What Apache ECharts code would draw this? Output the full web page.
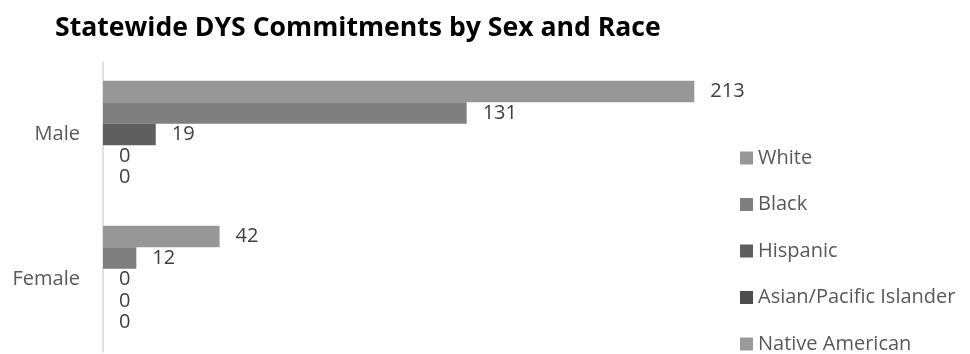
<!DOCTYPE html>
<html>
<head>
<meta charset="utf-8">
<script src="https://cdn.jsdelivr.net/npm/echarts@6/dist/echarts.min.js"></script>
<style>html,body{margin:0;padding:0;background:#fff}#c{width:970px;height:354px}</style>
</head>
<body>
<div id="c"></div>
<script>
const categories = ['Male', 'Female'];
const seriesNames = ['White', 'Black', 'Hispanic', 'Asian/Pacific Islander', 'Native American'];
const white = [213, 42];
const black = [131, 12];
const hispanic = [19, 0];
const asian = [0, 0];
const nativeAm = [0, 0];
const colors = ['#979797', '#7f7f7f', '#5f5f5f', '#4d4d4d', '#9a9a9a'];

const values = [white, black, hispanic, asian, nativeAm];
const FONT = 'Open Sans';
const chart = echarts.init(document.getElementById('c'));
chart.setOption({
  animation: false,
  title: {
    text: 'Statewide DYS Commitments by Sex and Race',
    left: 50, top: 10,
    textStyle: { fontFamily: FONT, fontWeight: 'bold', fontSize: 26.6, color: '#000' }
  },
  legend: {
    orient: 'vertical', left: 735, top: 143, height: 240,
    itemWidth: 13, itemHeight: 13, itemGap: 26.5,
    icon: 'rect',
    textStyle: { fontFamily: FONT, fontSize: 20, color: '#595959' },
    data: seriesNames
  },
  grid: { left: 103, top: 62, width: 694, bottom: 2 },
  xAxis: { type: 'value', min: 0, max: 250, show: false },
  yAxis: {
    type: 'category', data: categories, inverse: true,
    axisLine: { show: true, lineStyle: { color: '#d9d9d9', width: 1.5 } },
    axisTick: { show: false },
    axisLabel: { margin: 23, fontFamily: FONT, fontSize: 20, color: '#595959' }
  },
  series: seriesNames.map((n, i) => ({
    name: n, type: 'bar', data: values[i],
    barGap: 0, barCategoryGap: '26%',
    itemStyle: { color: colors[i] },
    label: { show: true, position: 'right', distance: 16, fontFamily: FONT, fontSize: 20, color: '#404040' }
  }))
});
</script>
</body>
</html>
